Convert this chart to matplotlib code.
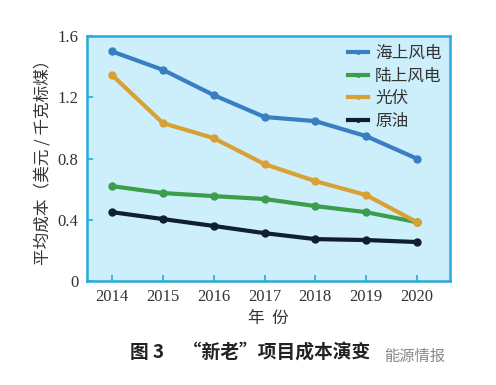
import matplotlib
matplotlib.use("Agg")
import matplotlib.pyplot as plt

years = [2014, 2015, 2016, 2017, 2018, 2019, 2020]
offshore = [1.50, 1.38, 1.215, 1.072, 1.045, 0.947, 0.80]
onshore = [0.62, 0.575, 0.555, 0.536, 0.49, 0.45, 0.385]
solar = [1.345, 1.032, 0.934, 0.764, 0.653, 0.562, 0.385]
oil = [0.45, 0.405, 0.36, 0.313, 0.274, 0.268, 0.255]
series_names = ["海上风电", "陆上风电", "光伏", "原油"]
yticks = [0, 0.4, 0.8, 1.2, 1.6]
ytick_labels = ["0", "0.4", "0.8", "1.2", "1.6"]

cjk = ["Noto Sans CJK SC", "DejaVu Sans"]
serif = ["Liberation Serif", "DejaVu Serif"]

fig = plt.figure(figsize=(4.96, 3.85), dpi=100)
fig.patch.set_facecolor("white")
ax = fig.add_axes([0.175, 0.27, 0.732, 0.636])
ax.set_facecolor("#cdeefb")

colors = ["#3a7ec2", "#3a9e4a", "#d9a033", "#0f1e30"]
for vals, name, c in zip([offshore, onshore, solar, oil], series_names, colors):
    ax.plot(years, vals, color=c, lw=3.0, marker="o", ms=5, label=name)

ax.set_xlim(2013.5, 2020.65)
ax.set_ylim(0, 1.6)
ax.set_yticks(yticks)
ax.set_yticklabels(ytick_labels, family=serif, fontsize=12, color="#333333")
ax.set_xticks(years)
ax.set_xticklabels([str(y) for y in years], family=serif, fontsize=12, color="#333333")
spc = "#29a9db"
for s in ax.spines.values():
    s.set_color(spc)
    s.set_linewidth(1.8)
ax.tick_params(direction="in", color=spc, length=4, width=1.2, pad=6)

ax.set_ylabel("平均成本（美元 / 千克标煤）", family=cjk, fontsize=12, color="#333333", labelpad=4)
ax.set_xlabel("年  份", family=cjk, fontsize=12, color="#333333", labelpad=3)

leg = ax.legend(loc="upper right", frameon=False, prop={"family": cjk, "size": 12},
                handlelength=1.2, handletextpad=0.4, labelspacing=0.35,
                borderaxespad=0.1, markerscale=0.5)
for t in leg.get_texts():
    t.set_color("#333333")

fig.text(0.505, 0.085, "图 3　“新老”项目成本演变", family=cjk, fontsize=13.5,
         fontweight="bold", ha="center", va="center", color="#222222")
fig.text(0.835, 0.075, "能源情报", family=cjk, fontsize=11, ha="center", va="center", color="#888888")

fig.savefig("out.png", dpi=100)
